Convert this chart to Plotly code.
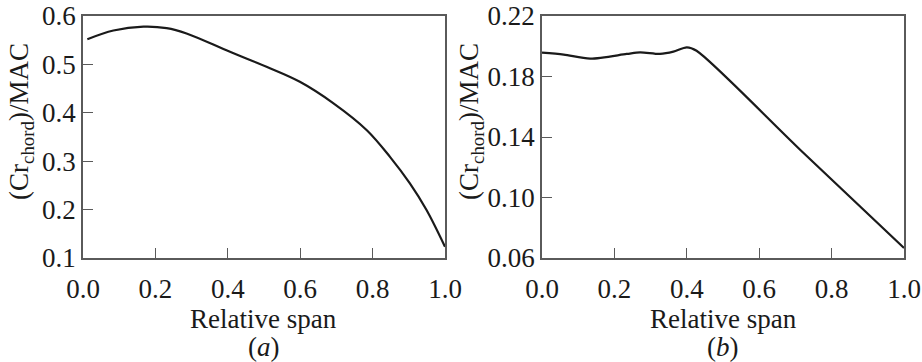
import plotly.graph_objects as go

# Panel (a)
span_a = [0.012, 0.084, 0.167, 0.231, 0.286, 0.406, 0.507, 0.599, 0.691, 0.784, 0.848, 0.903, 0.949, 1.0]
ratio_a = [0.552, 0.570, 0.578, 0.575, 0.564, 0.526, 0.495, 0.464, 0.420, 0.364, 0.309, 0.254, 0.199, 0.123]

# Panel (b)
span_b = [0.0, 0.06, 0.133, 0.234, 0.271, 0.326, 0.363, 0.40, 0.427, 0.713, 1.0]
ratio_b = [0.1958, 0.1945, 0.1918, 0.1949, 0.1960, 0.1949, 0.1964, 0.1993, 0.1970, 0.1316, 0.0666]

xticks = [0.0, 0.2, 0.4, 0.6, 0.8, 1.0]
yticks_a = [0.1, 0.2, 0.3, 0.4, 0.5, 0.6]
yticks_b = [0.06, 0.10, 0.14, 0.18, 0.22]

FONT = "Liberation Serif"
FS = 27
INK = "#1a1a1a"
AX = "#5a5a5a"

W, H = 922, 362
TOP, BOT = 16, 258


def px_x(p):
    return p / W


def py(p):
    return (BOT - p) / (BOT - TOP)


fig = go.Figure()
fig.add_trace(go.Scatter(x=span_a, y=ratio_a, mode="lines", line=dict(color=INK, width=2.2, shape="spline", smoothing=1.0),
                         xaxis="x", yaxis="y", showlegend=False, hoverinfo="skip"))
fig.add_trace(go.Scatter(x=span_b, y=ratio_b, mode="lines", line=dict(color=INK, width=2.2, shape="spline", smoothing=0.8),
                         xaxis="x2", yaxis="y2", showlegend=False, hoverinfo="skip"))

da = [px_x(83), px_x(445)]
db = [px_x(542), px_x(904)]

common_x = dict(range=[0, 1], tickvals=xticks, ticktext=[f"{v:.1f}" for v in xticks],
                ticks="inside", ticklen=10, tickcolor=AX, tickwidth=1.2, showline=True, linecolor=AX, linewidth=1.5,
                mirror=True, showgrid=False, zeroline=False, automargin=False, ticklabelstandoff=6,
                ticklabeloverflow="allow", tickfont=dict(family=FONT, size=FS, color=INK))
common_y = dict(ticks="inside", ticklen=10, tickcolor=AX, tickwidth=1.2, showline=True, linecolor=AX, linewidth=1.5,
                mirror=True, showgrid=False, zeroline=False, automargin=False, ticklabelstandoff=0,
                ticklabeloverflow="allow", tickfont=dict(family=FONT, size=FS, color=INK))

tfont = dict(family=FONT, size=FS, color=INK)
annotations = []
for dom, lab, ytx in ((da, "(<i>a</i>)", 21), (db, "(<i>b</i>)", 471)):
    cx = (dom[0] + dom[1]) / 2
    annotations.append(dict(text="Relative span", x=cx, y=py(319), xref="paper", yref="paper",
                            showarrow=False, font=tfont, yanchor="middle", xanchor="center"))
    annotations.append(dict(text=lab, x=cx, y=py(347), xref="paper", yref="paper",
                            showarrow=False, font=tfont, yanchor="middle", xanchor="center"))
    annotations.append(dict(text="(Cr<sub>chord</sub>)/MAC", x=px_x(ytx), y=py(122), xref="paper", yref="paper",
                            textangle=-90, showarrow=False, font=tfont, yanchor="middle", xanchor="center"))

fig.update_layout(
    width=W, height=H,
    margin=dict(l=0, r=0, t=TOP, b=H - BOT, pad=0),
    paper_bgcolor="white", plot_bgcolor="white",
    xaxis=dict(domain=da, anchor="y", **common_x),
    yaxis=dict(domain=[0, 1], anchor="x", range=[0.1, 0.6], tickvals=yticks_a,
               ticktext=[f"{v:.1f}" for v in yticks_a], **common_y),
    xaxis2=dict(domain=db, anchor="y2", **common_x),
    yaxis2=dict(domain=[0, 1], anchor="x2", range=[0.06, 0.22], tickvals=yticks_b,
                ticktext=[f"{v:.2f}" for v in yticks_b], **common_y),
    annotations=annotations,
)

# remove the browser's default 8px body margin so the figure sits at the window origin
fig.write_html("out.html", config={"displayModeBar": False},
               post_script="document.body.style.margin='0px';document.body.style.overflow='hidden';")
